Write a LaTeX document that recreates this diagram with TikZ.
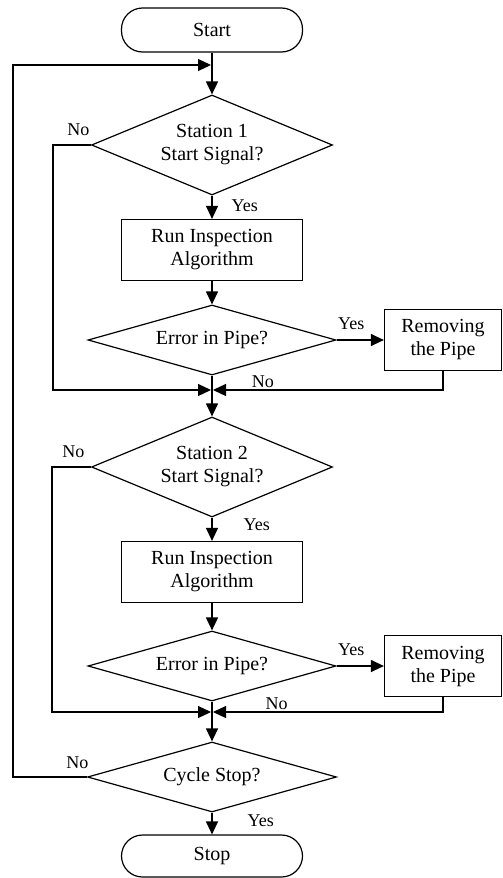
\documentclass[tikz,border=0pt]{standalone}
\usepackage{fontspec}
\setmainfont{Liberation Serif}
\usetikzlibrary{arrows.meta}
\usetikzlibrary{shapes.geometric}
\usetikzlibrary{positioning}
\tikzset{
  terminal/.style={draw, rectangle, rounded corners=21pt,
    minimum width=181pt, minimum height=44pt, inner sep=0pt,
    font=\fontsize{20pt}{23pt}\selectfont},
  process/.style={draw, rectangle, minimum width=181pt,
    minimum height=61pt, inner sep=0pt, align=center,
    font=\fontsize{20pt}{23pt}\selectfont},
  removal/.style={process, minimum width=117pt},
  decision/.style={draw, diamond, aspect=2.4, minimum width=241pt,
    minimum height=100pt, inner sep=0pt, align=center,
    font=\fontsize{20pt}{23pt}\selectfont},
  question/.style={decision, minimum width=248pt, minimum height=70pt},
  answer/.style={font=\fontsize{18pt}{20pt}\selectfont, inner sep=1pt}
}

\begin{document}
\begin{tikzpicture}[->,>={Triangle[length=13pt,width=12pt]},
      line width=1.2pt,
      on grid,
      line join=miter]

    \useasboundingbox (0,0) rectangle (503pt,-878pt);

    \node[terminal]
      (Start) at (212pt,-30pt) {Start};
    \node[decision]
      (StationOne) [below=115pt of Start] {Station 1\\Start Signal?};
    \node[process]
      (RunOne) [below=105pt of StationOne] {Run Inspection\\Algorithm};
    \node[question]
      (ErrorOne) [below=90pt of RunOne] {Error in Pipe?};
    \node[removal]
      (RemoveOne) [right=231pt of ErrorOne] {Removing\\the Pipe};
    \node[decision]
      (StationTwo) [below=127pt of ErrorOne] {Station 2\\Start Signal?};
    \node[process]
      (RunTwo) [below=105pt of StationTwo] {Run Inspection\\Algorithm};
    \node[question]
      (ErrorTwo) [below=94pt of RunTwo] {Error in Pipe?};
    \node[removal]
      (RemoveTwo) [right=231pt of ErrorTwo] {Removing\\the Pipe};
    \node[question, minimum width=249pt]
      (CycleStop) [below=111pt of ErrorTwo] {Cycle Stop?};
    \node[terminal, minimum height=42pt]
      (Stop) [below=79pt of CycleStop] {Stop};

    \coordinate[below=35pt of Start] (Back);
    \coordinate[below=50pt of ErrorOne] (JoinOne);
    \coordinate[below=46pt of ErrorTwo] (JoinTwo);

    \path[->]
      (Start) edge (StationOne)
      (StationOne) edge node[answer, pos=0, anchor=north west, xshift=18pt, yshift=-3pt] {Yes} (RunOne)
      (RunOne) edge (ErrorOne)
      (ErrorOne) edge (StationTwo)
      (StationTwo) edge node[answer, pos=0, anchor=north west, xshift=30pt, yshift=0pt] {Yes} (RunTwo)
      (RunTwo) edge (ErrorTwo)
      (ErrorTwo) edge (CycleStop)
      (CycleStop) edge node[answer, pos=0, anchor=north west, xshift=34pt, yshift=-1pt] {Yes} (Stop);

    % yes branches to the removal boxes
    \draw (ErrorOne.east) node[answer, anchor=south west, yshift=9pt] {Yes} -- (RemoveOne.west);
    \draw (ErrorTwo.east) node[answer, anchor=south west, yshift=9pt] {Yes} -- (RemoveTwo.west);

    % no branches back into the main line
    \draw[shorten >=1pt] (StationOne.west) node[answer, anchor=south east, yshift=8pt] {No}
      -- ++(-38pt,0) |- (JoinOne);
    \draw[shorten >=1pt] (RemoveOne.south) |- node[answer, pos=0.89, above=1pt] {No} (JoinOne);
    \draw[shorten >=1pt] (StationTwo.west) node[answer, anchor=south east, xshift=-5pt, yshift=8pt] {No}
      -- ++(-39pt,0) |- (JoinTwo);
    \draw[shorten >=1pt] (RemoveTwo.south) |- node[answer, pos=0.86, above=1pt] {No} (JoinTwo);
    \draw[shorten >=1pt] (CycleStop.west) node[answer, anchor=south east, xshift=3pt, yshift=7pt] {No}
      -- ++(-74pt,0) |- (Back);

  \end{tikzpicture}
\end{document}
